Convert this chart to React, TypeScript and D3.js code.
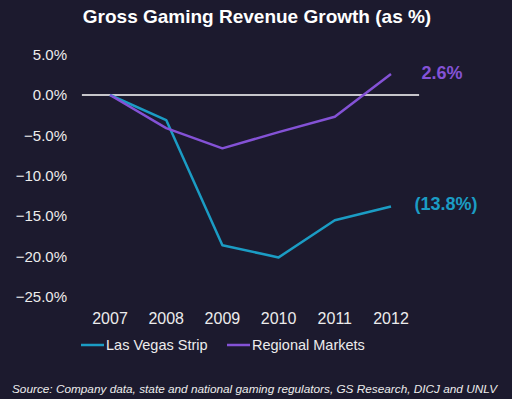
import React, { useEffect, useRef } from "react";
import * as d3 from "d3";

const years = ["2007", "2008", "2009", "2010", "2011", "2012"];
const lasVegas = [0, -3.1, -18.6, -20.1, -15.5, -13.8];
const regional = [0, -4.1, -6.6, -4.6, -2.7, 2.6];
const yTicks = [5, 0, -5, -10, -15, -20, -25];
const endLabels = ["(13.8%)", "2.6%"];

const W = 512;
const H = 399;
const BG = "#1c1a2e";
const TEAL = "#1b9cc4";
const PURPLE = "#8452d6";
const FONT = "'Liberation Sans', Arial, sans-serif";

function App() {
  const ref = useRef<SVGSVGElement>(null);

  useEffect(() => {
    const svg = d3.select(ref.current);
    svg.selectAll("*").remove();

    svg.append("rect").attr("width", W).attr("height", H).attr("fill", BG);

    // title
    svg.append("text")
      .attr("x", 257).attr("y", 23)
      .attr("text-anchor", "middle")
      .attr("font-family", FONT).attr("font-weight", "bold").attr("font-size", 19)
      .attr("fill", "#ffffff")
      .text("Gross Gaming Revenue Growth (as %)");

    const x = d3.scalePoint().domain(years).range([110, 391]).padding(0);
    const y = d3.scaleLinear().domain([-25, 5]).range([297, 54.6]);

    // y axis labels
    svg.append("g").selectAll("text")
      .data(yTicks)
      .enter().append("text")
        .attr("x", 67).attr("y", d => y(d))
        .attr("dy", "0.35em")
        .attr("text-anchor", "end")
        .attr("font-family", FONT).attr("font-size", 15)
        .attr("fill", "#ececec")
        .text(d => d3.format(".1f")(d) + "%");

    // x axis labels
    svg.append("g").selectAll("text")
      .data(years)
      .enter().append("text")
        .attr("x", d => x(d)!).attr("y", 324)
        .attr("text-anchor", "middle")
        .attr("font-family", FONT).attr("font-size", 16)
        .attr("fill", "#ececec")
        .text(d => d);

    // zero line
    const half = x.step() / 2;
    svg.append("line")
      .attr("x1", x(years[0])! - half).attr("x2", x(years[years.length - 1])! + half)
      .attr("y1", y(0)).attr("y2", y(0))
      .attr("stroke", "#ffffff").attr("stroke-width", 1.5);

    const line = d3.line<number>()
      .x((_, i) => x(years[i])!)
      .y(d => y(d));

    const series = [
      { name: "Las Vegas Strip", values: lasVegas, color: TEAL, label: endLabels[0] },
      { name: "Regional Markets", values: regional, color: PURPLE, label: endLabels[1] },
    ];

    series.forEach(s => {
      svg.append("path")
        .datum(s.values)
        .attr("d", line)
        .attr("fill", "none")
        .attr("stroke", s.color)
        .attr("stroke-width", 2.5)
        .attr("stroke-linejoin", "round");

      const last = s.values[s.values.length - 1];
      svg.append("text")
        .attr("x", s.label.startsWith("(") ? 446 : 442)
        .attr("y", y(last) + (last > 0 ? -1 : -3))
        .attr("dy", "0.35em")
        .attr("text-anchor", "middle")
        .attr("font-family", FONT).attr("font-weight", "bold").attr("font-size", 18)
        .attr("fill", s.color)
        .text(s.label);
    });

    // legend
    const legend = svg.append("g");
    const legendX = [81, 227];
    series.forEach((s, i) => {
      legend.append("line")
        .attr("x1", legendX[i]).attr("x2", legendX[i] + 23)
        .attr("y1", 345).attr("y2", 345)
        .attr("stroke", s.color).attr("stroke-width", 2.5);
      legend.append("text")
        .attr("x", legendX[i] + 25).attr("y", 345)
        .attr("dy", "0.35em")
        .attr("font-family", FONT).attr("font-size", 14.5)
        .attr("fill", "#ececec")
        .text(s.name);
    });

    // source
    svg.append("text")
      .attr("x", 12).attr("y", 393)
      .attr("font-family", FONT).attr("font-style", "italic").attr("font-size", 11.8)
      .attr("textLength", 485).attr("lengthAdjust", "spacingAndGlyphs")
      .attr("fill", "#ececec")
      .text("Source: Company data, state and national gaming regulators, GS Research, DICJ and UNLV");
  }, []);

  return (
    <svg ref={ref} width={W} height={H} style={{ position: "absolute", left: 0, top: 0 }} />
  );
}

export default App;
